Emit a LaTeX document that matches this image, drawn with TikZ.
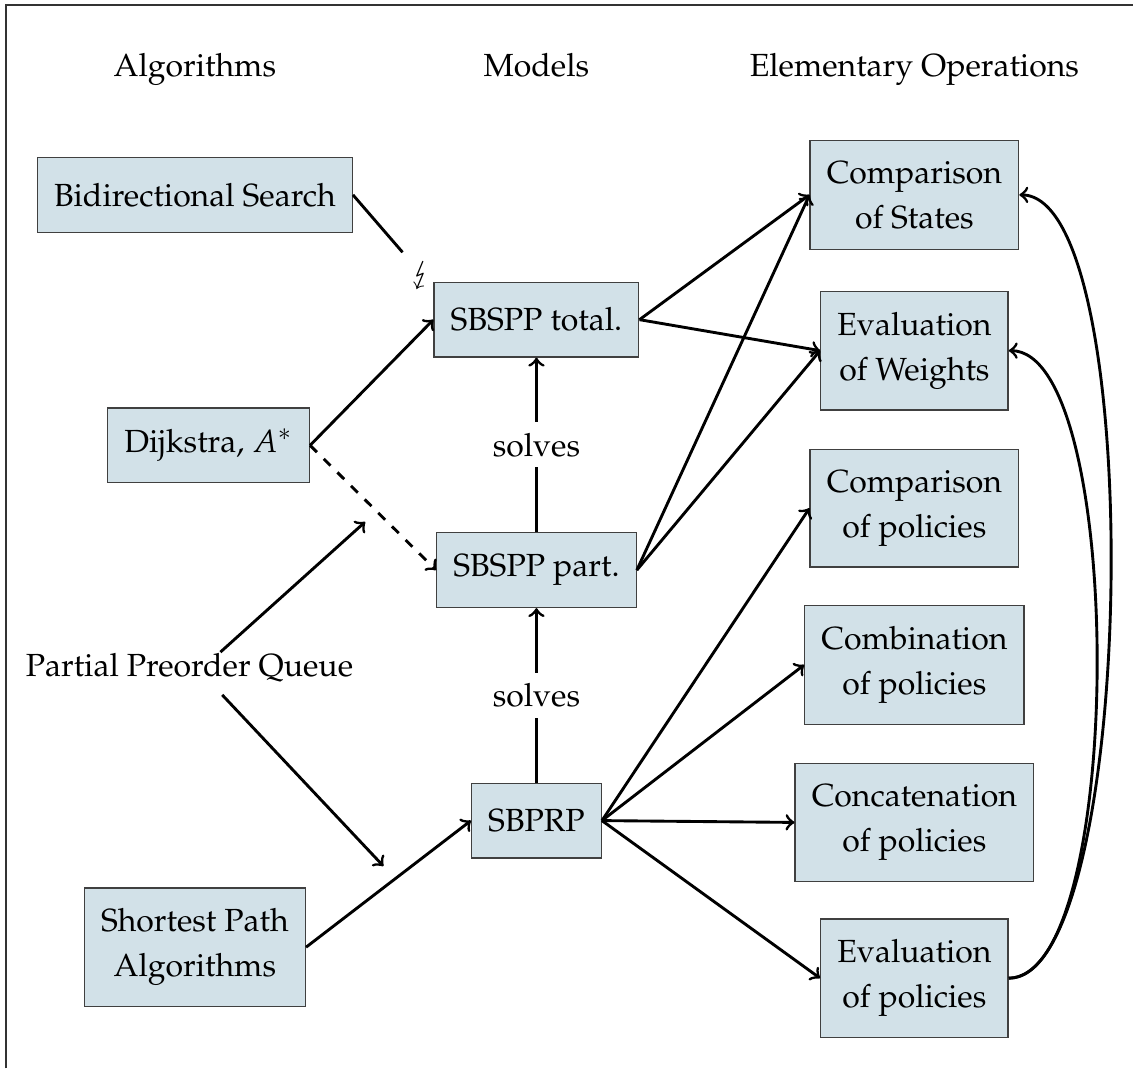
\documentclass[tikz,border=0pt]{standalone}
\usepackage[T1]{fontenc}
\usepackage{mathpazo}
\usepackage{stmaryrd}
\usepackage{xcolor}
\usepackage{tikz}
\usetikzlibrary{positioning,arrows}
\definecolor{boxblue}{RGB}{210,225,232}

\begin{document}
\begin{tikzpicture}[
	box/.style={draw=black!75,fill=boxblue,align=center,inner xsep=5.2pt,inner ysep=6.5pt,minimum height=0.82cm,font=\fontsize{10}{14}\selectfont},
	head/.style={anchor=base},
	conn/.style={->,line width=0.9pt}]
	\useasboundingbox (0,0) rectangle (12.44,-11.73);
	\draw[black!80] (0.066,-11.73) -- (0.066,-0.055) -- (12.44,-0.055);
	% column heads
	\node[head] (hdalg) at (2.14,-0.845) {Algorithms};
	\node[head] (hdmod) at (5.89,-0.845) {Models};
	\node[head] (hdops) at (10.04,-0.845) {Elementary Operations};
	% algorithms
	\node[box] (bidir) at (2.14,-2.14) {Bidirectional Search};
	\node[box] (dijk) at (2.29,-4.89) {Dijkstra, $A^*$};
	\node (ppq) at (2.08,-7.33) {Partial Preorder Queue};
	\node[box] (spa) at (2.14,-10.40) {Shortest Path\\Algorithms};
	% models
	\node[box] (total) at (5.89,-3.51) {SBSPP total.};
	\node[box] (part) at (5.89,-6.26) {SBSPP part.};
	\node[box] (sbprp) at (5.89,-9.01) {SBPRP};
	% operations
	\node[box] (states) at (10.04,-2.14) {Comparison\\of States};
	\node[box] (weights) at (10.04,-3.85) {Evaluation\\of Weights};
	\node[box] (cmppol) at (10.04,-5.58) {Comparison\\of policies};
	\node[box] (combpol) at (10.04,-7.30) {Combination\\of policies};
	\node[box] (concpol) at (10.04,-9.03) {Concatenation\\of policies};
	\node[box] (evalpol) at (10.04,-10.74) {Evaluation\\of policies};
	% free ends
	\coordinate (cut) at (4.42,-2.77);
	\node (bolt) at (4.62,-3.02) {$\lightning$};
	\coordinate (qup) at (2.42,-7.16);
	\coordinate (qupend) at (4.01,-5.73);
	\coordinate (qdown) at (2.44,-7.63);
	\coordinate (qdownend) at (4.21,-9.51);
	% connectors
	\draw[line width=0.9pt] (bidir.east) -- (cut);
	\draw[conn] (dijk.east) -- (total.west);
	\draw[conn,dashed] (dijk.east) -- (part.west);
	\draw[conn] (qup) -- (qupend);
	\draw[conn] (qdown) -- (qdownend);
	\draw[conn] (spa.east) -- (sbprp.west);
	\draw[conn] (part.north) -- node[fill=white] {solves} (total.south);
	\draw[conn] (sbprp.north) -- node[fill=white] {solves} (part.south);
	\draw[conn] (total.east) -- (states.west);
	\draw[conn] (total.east) -- (weights.west);
	\draw[conn] (part.east) -- (states.west);
	\draw[conn] (part.east) -- (weights.west);
	\draw[conn] (sbprp.east) -- (cmppol.west);
	\draw[conn] (sbprp.east) -- (combpol.west);
	\draw[conn] (sbprp.east) -- (concpol.west);
	\draw[conn] (sbprp.east) -- (evalpol.west);
	\draw[conn] (evalpol.east) to[out=0,in=0,looseness=0.42] (states.east);
	\draw[conn] (evalpol.east) to[out=0,in=0,looseness=0.48] (weights.east);
\end{tikzpicture}
\end{document}
